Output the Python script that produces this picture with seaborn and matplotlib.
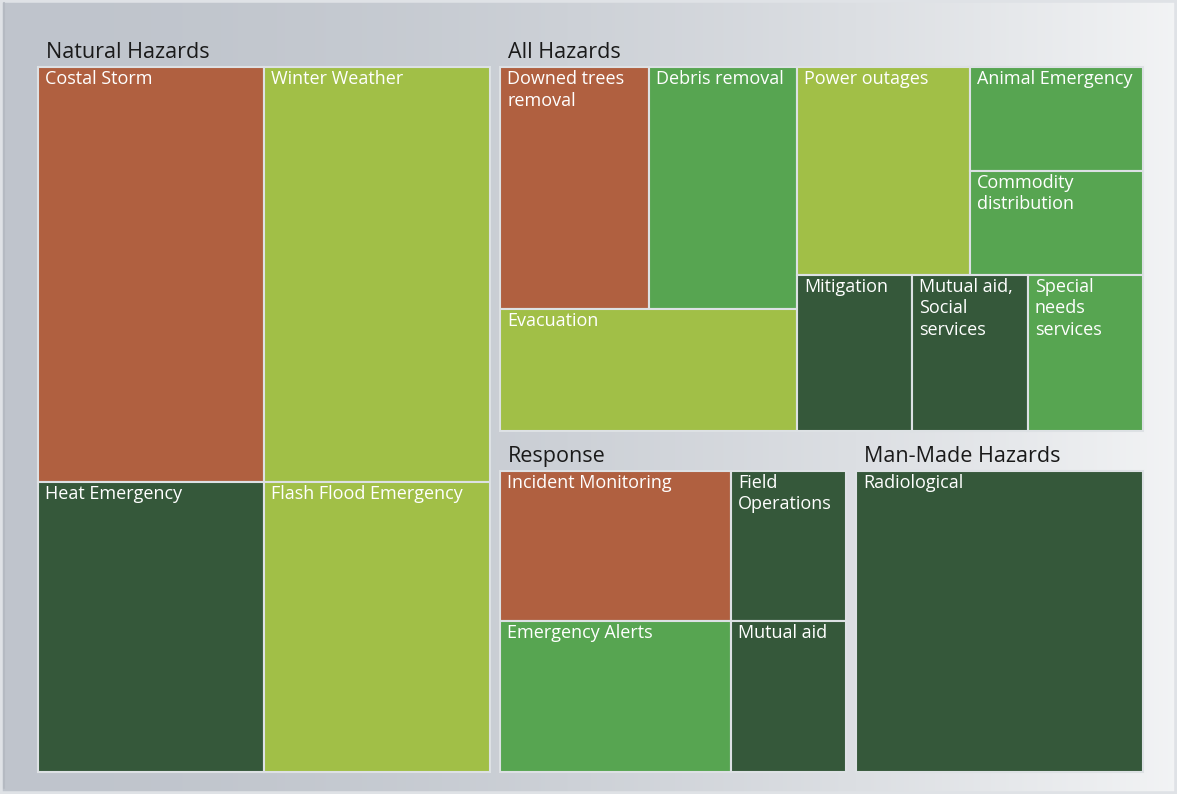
import numpy as np
import matplotlib
matplotlib.use("Agg")
import matplotlib.pyplot as plt
import seaborn as sns
from matplotlib.patches import Rectangle

# data: hazard groups and their items (relative size + status colour)
groups = ["Natural Hazards", "All Hazards", "Response", "Man-Made Hazards"]

natural_labels = ["Costal Storm", "Heat Emergency", "Winter Weather", "Flash Flood Emergency"]
natural_values = [5, 3.5, 5, 3.5]
natural_status = ["high", "low", "medium", "medium"]

allhaz_labels = ["Downed trees\nremoval", "Debris removal", "Evacuation",
                 "Power outages", "Animal Emergency", "Commodity\ndistribution",
                 "Mitigation", "Mutual aid,\nSocial\nservices", "Special\nneeds\nservices"]
allhaz_values = [2, 2, 2, 2, 1, 1, 1, 1, 1]
allhaz_status = ["high", "ok", "medium", "medium", "ok", "ok", "low", "low", "ok"]

response_labels = ["Incident Monitoring", "Emergency Alerts", "Field\nOperations", "Mutual aid"]
response_values = [2, 2, 1, 1]
response_status = ["high", "ok", "low", "low"]

manmade_labels = ["Radiological"]
manmade_values = [5]
manmade_status = ["low"]

palette = {"high": "#b06040", "medium": "#a1bf47", "ok": "#57a551", "low": "#35583a"}

# split order of the treemap (h = side by side, v = stacked), leaves are item indices
natural_tree = ("h", [("v", [0, 1]), ("v", [2, 3])])
allhaz_tree = ("h", [("v", [("h", [0, 1]), 2]),
                     ("v", [("h", [3, ("v", [4, 5])]), ("h", [6, 7, 8])])])
response_tree = ("h", [("v", [0, 1]), ("v", [2, 3])])
manmade_tree = 0


def total(node, vals):
    if isinstance(node, int):
        return vals[node]
    return sum(total(c, vals) for c in node[1])


def layout(node, vals, x, y, w, h, out):
    if isinstance(node, int):
        out[node] = (x, y, w, h)
        return
    kind, kids = node
    s = total(node, vals)
    pos = x if kind == "h" else y
    for c in kids:
        f = total(c, vals) / s
        if kind == "h":
            layout(c, vals, pos, y, w * f, h, out)
            pos += w * f
        else:
            layout(c, vals, x, pos, w, h * f, out)
            pos += h * f


sns.set_theme(style="white")
plt.rcParams["font.family"] = ["Open Sans", "DejaVu Sans"]

W, H = 1177, 794
fig = plt.figure(figsize=(W / 100, H / 100), dpi=100)
ax = fig.add_axes([0, 0, 1, 1])
ax.set_xlim(0, W)
ax.set_ylim(H, 0)
ax.axis("off")

# panel background gradient
xs = np.linspace(0, 1, 400)
ramp = xs ** 1.8
c0 = np.array([0.75, 0.77, 0.80])
c1 = np.array([0.95, 0.955, 0.96])
grad = c0[None, :] * (1 - ramp[:, None]) + c1[None, :] * ramp[:, None]
ax.imshow(grad[None, :, :], extent=[0, W, H, 0], aspect="auto", zorder=0)
ax.add_patch(Rectangle((0, 0), W, H, fill=False, ec="#dfe2e6", lw=4, zorder=1))
ax.plot([4, 4], [3, H - 6], color="#b5bac2", lw=1.5, zorder=1)

# group boxes: Natural | (All Hazards / (Response | Man-Made))
datasets = [
    (natural_labels, natural_values, natural_status, natural_tree),
    (allhaz_labels, allhaz_values, allhaz_status, allhaz_tree),
    (response_labels, response_values, response_status, response_tree),
    (manmade_labels, manmade_values, manmade_status, manmade_tree),
]
group_sizes = [sum(d[1]) for d in datasets]
top_tree = ("h", [0, ("v", [1, ("h", [2, 3])])])
group_rects = {}
layout(top_tree, group_sizes, 33, 32, 1115, 745, group_rects)

pad, header = 5, 30
for gi, (labels, vals, status, tree) in enumerate(datasets):
    gx, gy, gw, gh = group_rects[gi]
    gx, gy, gw, gh = gx + pad, gy + pad, gw - 2 * pad, gh - 2 * pad
    ax.text(gx + 8, gy + 21, groups[gi], fontsize=15.5, color="#1a1a1a",
            va="baseline", ha="left", zorder=3)
    cells = {}
    layout(tree, vals, gx, gy + header, gw, gh - header, cells)
    for i, (cx, cy, cw, ch) in cells.items():
        ax.add_patch(Rectangle((cx, cy), cw, ch, fc=palette[status[i]],
                               ec="#dde1e4", lw=1.5, zorder=2))
        ax.text(cx + 7, cy + 3, labels[i], fontsize=13, color="white",
                va="top", ha="left", linespacing=1.25, zorder=3)

fig.savefig("out.png", dpi=100)
